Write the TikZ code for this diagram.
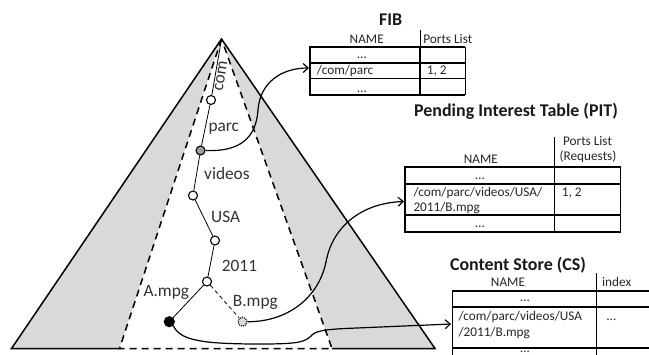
\documentclass[tikz,border=0pt]{standalone}
\usepackage{fontspec}
\usepackage{graphicx}
\setmainfont{Carlito}
\usetikzlibrary{arrows.meta}
\begin{document}
\begin{tikzpicture}[x=1bp,y=-1bp,
  treelbl/.style={anchor=base west,inner sep=0,font=\fontsize{17.4}{20}\selectfont,text=black!80},
  tabtxt/.style={anchor=base west,inner sep=0,font=\fontsize{13.3}{15}\selectfont,text=black!85},
  tabmid/.style={tabtxt,anchor=base},
  ttl/.style={anchor=base,inner sep=0,font=\fontsize{18}{20}\bfseries\selectfont,text=black!90},
  vtx/.style={circle,draw,line width=1.1bp,fill=white,minimum size=9bp,inner sep=0},
  tedge/.style={line width=0.8bp},
  conn/.style={line width=1.2bp,-{Straight Barb[length=5bp,width=9bp]}},
  hline/.style={line width=1.8bp},
  vthick/.style={line width=1.5bp},
  vthin/.style={line width=0.8bp},
  tri/.style={line width=1.5bp}
]
\useasboundingbox (0,0) rectangle (649,354);
% triangle
\coordinate (apex) at (221.5,39);
\coordinate (obl) at (11.5,348.5);
\coordinate (obr) at (435,348.5);
\coordinate (ibl) at (119.5,348.5);
\coordinate (ibr) at (332,348.5);
\fill[gray!30] (apex) -- (obl) -- (obr) -- cycle;
\fill[white] (apex) -- (ibl) -- (ibr) -- cycle;
\draw[tri,line join=miter] (ibl) -- (obl) -- (apex) -- (obr) -- (ibr);
\draw[tri,dash pattern=on 7bp off 5bp] (apex) -- (ibl) -- (ibr) -- cycle;
% tree vertices
\node[vtx] (n1) at (211,100) {};
\node[vtx,fill=black!38] (n2) at (200.5,150.5) {};
\node[vtx] (n3) at (193,195.5) {};
\node[vtx] (n4) at (215,240.5) {};
\node[vtx] (n5) at (207,281.5) {};
\node[vtx,fill=black,minimum size=10bp] (A) at (169.3,321.7) {};
\node[vtx,fill=gray!30,densely dotted] (B) at (242.5,321.7) {};
\draw[tedge] (apex) -- (n1) (n1) -- (n2) (n2) -- (n3) (n3) -- (n4) (n4) -- (n5) (n5) -- (A);
\draw[tedge,dash pattern=on 4bp off 3bp] (n5) -- (B);
% tree labels
\node[treelbl,anchor=center] (lcom) at (221,76) {\rotatebox{81}{com}};
\node[treelbl] (lparc) at (208.3,131.7) {parc};
\node[treelbl] (lvid) at (204,179) {videos};
\node[treelbl] (lusa) at (211,222.7) {USA};
\node[treelbl] (l2011) at (221.7,271.7) {2011};
\node[treelbl] (lA) at (143.3,296.7) {A.mpg};
\node[treelbl] (lB) at (232.7,306.7) {B.mpg};
% FIB
\node[ttl] (fibt) at (390.7,25) {FIB};
\node[tabmid] (fibn) at (366.7,43.3) {NAME};
\node[tabmid] (fibp) at (447.8,43.3) {Ports List};
\draw[vthin] (420,30) -- (420,47.3);
\draw[hline] (309.2,47.3) -- (465,47.3) (309.2,63) -- (465,63) (309.2,78.5) -- (465,78.5) (309.2,95) -- (465,95);
\draw[vthick] (310,47.3) -- (310,95) (420,47.3) -- (420,95);
\draw[vthin] (465,47.3) -- (465,95);
\node[tabmid] (fib1) at (362,58.5) {…};
\node[tabtxt] (fib2) at (316.7,74.5) {/com/parc};
\node[tabtxt] (fib2p) at (426.7,74.5) {1, 2};
\node[tabmid] (fib3) at (362,92.5) {…};
% PIT
\node[ttl] (pitt) at (516,116.7) {Pending Interest Table (PIT)};
\node[tabmid] (pitp1) at (587.5,145) {Ports List};
\node[tabmid] (pitp2) at (588,160) {(Requests)};
\node[tabmid] (pitn) at (480.8,163.3) {NAME};
\draw[vthin] (554.3,136.7) -- (554.3,167.3);
\draw[hline] (404.2,167.3) -- (620.7,167.3) (404.2,184) -- (620.7,184) (404.2,215) -- (620.7,215) (404.2,231.7) -- (620.7,231.7);
\draw[vthick] (405,167.3) -- (405,231.7) (554.3,167.3) -- (554.3,231.7);
\draw[vthin] (620.7,167.3) -- (620.7,231.7);
\node[tabmid] (pit1) at (480,179.5) {…};
\node[tabtxt] (pit2a) at (413.3,196.7) {/com/parc/videos/USA/};
\node[tabtxt] (pit2b) at (413.3,211.7) {2011/B.mpg};
\node[tabtxt] (pit2p) at (561.7,196.7) {1, 2};
\node[tabmid] (pit3) at (480,227.5) {…};
% CS
\node[ttl] (cst) at (518,270) {Content Store (CS)};
\node[tabmid] (csn) at (508,286) {NAME};
\node[tabmid] (csi) at (616.7,286) {index};
\draw[vthin] (596.7,273) -- (596.7,290.7);
\draw[hline] (451.9,290.7) -- (650,290.7) (451.9,306.7) -- (650,306.7) (451.9,348.3) -- (650,348.3);
\draw[vthick] (452.7,290.7) -- (452.7,356) (596.7,290.7) -- (596.7,356);
\node[tabmid] (cs1) at (525,301) {…};
\node[tabtxt] (cs2a) at (458.3,320) {/com/parc/videos/USA};
\node[tabtxt] (cs2b) at (458.3,336) {/2011/B.mpg};
\node[tabtxt] (cs2i) at (606.7,320) {…};
\node[tabmid] (cs3) at (525,352.3) {…};
% connectors
\coordinate (fibin) at (309,68);
\coordinate (pitin) at (404,201.5);
\coordinate (csin) at (451,324);
\draw[conn] (n2.east) .. controls (240,152) and (256,138) .. (258,110) .. controls (260,82) and (282,68) .. (fibin);
\draw[conn] (B.east) .. controls (285,322) and (318,300) .. (326,262) .. controls (332,228) and (360,203) .. (pitin);
\draw[conn] (A.south east) .. controls (180,340) and (200,344) .. (260,344) .. controls (300,344) and (305,342) .. (312,335) .. controls (316,331) and (325,329.5) .. (345,328.5) -- (csin);
\end{tikzpicture}
\end{document}
